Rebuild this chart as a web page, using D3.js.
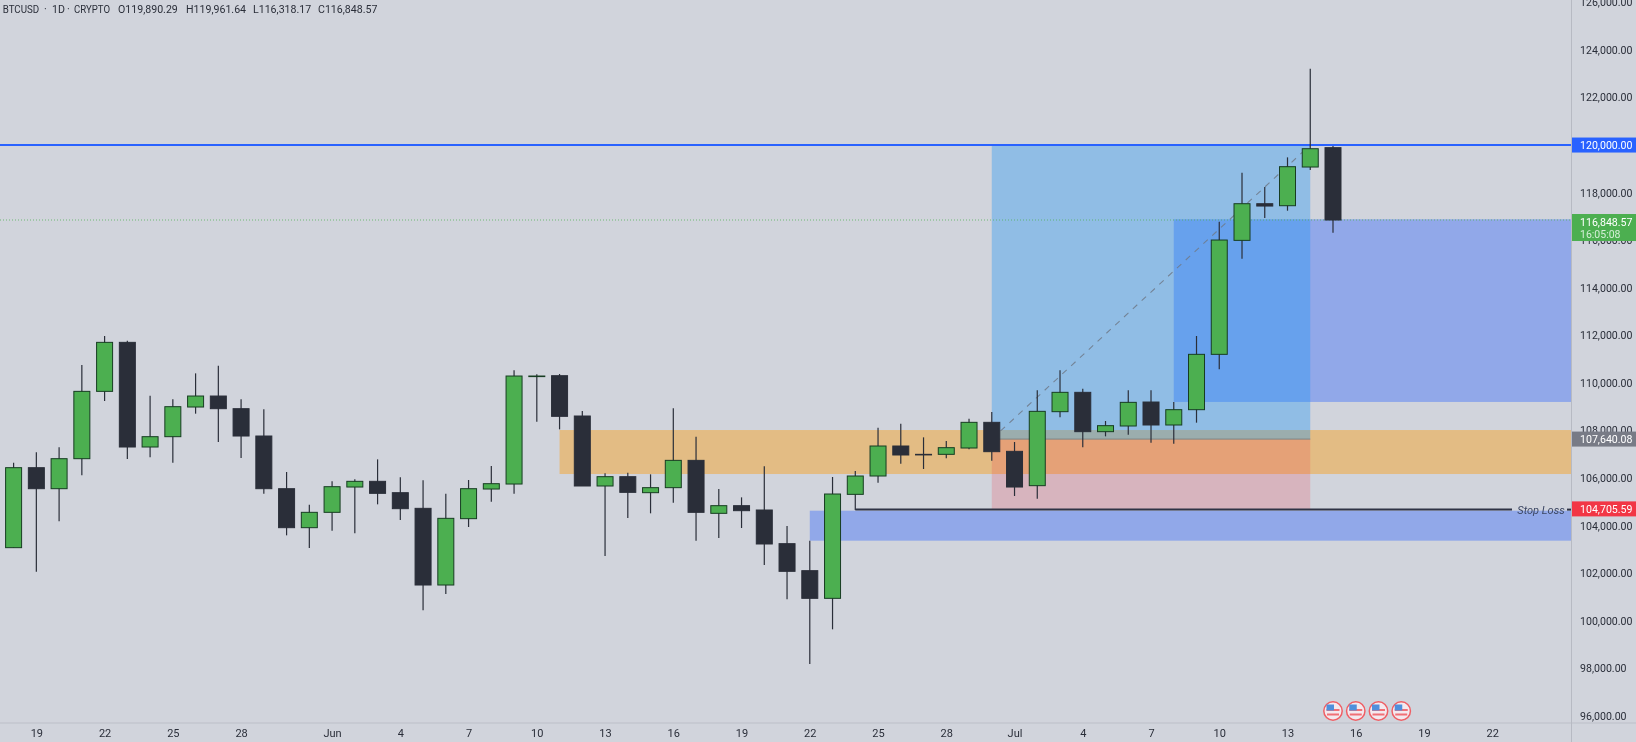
<!DOCTYPE html>
<html>
<head>
<meta charset="utf-8">
<script src="https://cdn.jsdelivr.net/npm/d3@7"></script>
<style>
html,body{margin:0;padding:0;background:#d1d4dc;overflow:hidden}
svg{display:block;font-family:Roboto,sans-serif;filter:blur(0.35px)}
</style>
</head>
<body>
<svg id="chart" width="1636" height="742"></svg>
<script>
const startDate = "2025-05-18";
const opens = [103076,106438,105555,106816,109646,111706,107307,107741,108988,109450,108918,107769,105555,103916,104561,105625,105864,105387,104729,101506,104295,105541,105751,110291,
  110305,108610,105668,106060,105387,105598,106746,104519,104841,104659,103244,102109,100946,105317,106088,107349,106999,106999,107265,108344,107125,105682,108792,109605,107952,108190,109198,108232,108876,111202,115993,117534,117450,119076,119890.29];
const closes = [106438,105555,106816,109646,111706,107307,107741,109002,109450,108918,107769,105555,103916,104561,105639,105864,105359,104715,101506,104309,105555,105765,110291,110291,
  108596,105668,106060,105401,105598,106746,104561,104841,104631,103230,102081,100946,105331,106088,107349,106971,106980,107279,108344,107111,105625,108806,109605,107952,108204,109184,108232,108876,111202,116007,117534,117436,119090,119846,116848.57];
const highs = [106648,107082,107293,110753,111972,111776,109464,109310,110403,110725,109310,108890,106256,104883,105864,105948,106788,106032,105906,105345,105920,106508,110529,110361,
  110375,108820,106200,106228,106158,108932,107741,105541,105191,106494,103986,103370,106046,106298,108119,108287,107713,107559,108498,108778,107517,109689,110529,109759,108400,109689,109689,109198,111973,116778,118837,118235,119482,123208,119961.64];
const lows = [103076,102067,104182,106116,109240,106802,106872,106648,108708,107517,106844,105345,103594,103062,103790,103678,104897,104238,100442,101128,103944,105009,105345,108371,
  108049,105668,102726,104323,104519,104967,103370,103482,103902,102347,100904,98186,99643,104659,105808,106606,106382,106831,107209,106732,105248,105135,108554,107293,107755,107826,107489,107447,108330,110571,115223,116932,117240,118950,116318.17];

const priceTicks = d3.range(96000, 126001, 2000);
const dateTicks = ["2025-05-19","2025-05-22","2025-05-25","2025-05-28","2025-06-01","2025-06-04","2025-06-07","2025-06-10","2025-06-13","2025-06-16","2025-06-19","2025-06-22","2025-06-25","2025-06-28","2025-07-01","2025-07-04","2025-07-07","2025-07-10","2025-07-13","2025-07-16","2025-07-19","2025-07-22"];
const dateTickLabels = ["19","22","25","28","Jun","4","7","10","13","16","19","22","25","28","Jul","4","7","10","13","16","19","22"];
const eventDates = ["2025-07-15","2025-07-16","2025-07-17","2025-07-18"];

const headerParts = ["BTCUSD","·","1D","·","CRYPTO","O119,890.29","H119,961.64","L116,318.17","C116,848.57"];
const headerStarts = [2.7,44,52,67,74,118,186,253,318];
const headerWidths = [36.5,null,null,null,36,null,null,null,null];
const targetPrice = 120000, entryPrice = 107640.08, stopPrice = 104705.59, lastPrice = 116848.57;
const orangeZone = [108021, 106172], blueZoneUpper = [116880, 109200], blueZoneLower = [104630, 103370];
const positionDates = ["2025-06-30","2025-07-14"];
const orangeStart = "2025-06-11", upperStart = "2025-07-08", lowerStart = "2025-06-22", stopStart = "2025-06-24";

const W = 1636, H = 742, paneR = 1571.5, axisY = 723, labelX = 1580, labelSize = 10.6;
const d = s => new Date(s + "T00:00:00Z");
const x = d3.scaleUtc().domain([d(startDate), d("2025-07-15")]).range([13.6, 1333]);
const y = d3.scaleLinear().domain([96000, 126000]).range([716, 2.3]);
const svg = d3.select("#chart");

svg.append("rect").attr("width", W).attr("height", H).attr("fill", "#d1d4dc");

const zones = svg.append("g");
const zone = (x0, x1, p0, p1, fill) => zones.append("rect")
  .attr("x", x0).attr("width", x1 - x0)
  .attr("y", y(p0)).attr("height", y(p1) - y(p0)).attr("fill", fill);
zone(x(d(orangeStart)), paneR, orangeZone[0], orangeZone[1], "rgba(255,152,0,0.4)");
zone(x(d(upperStart)), paneR, blueZoneUpper[0], blueZoneUpper[1], "rgba(41,98,255,0.38)");
zone(x(d(lowerStart)), paneR, blueZoneLower[0], blueZoneLower[1], "rgba(41,98,255,0.38)");
zone(x(d(positionDates[0])), x(d(positionDates[1])), targetPrice, entryPrice, "rgba(33,150,243,0.37)");
zone(x(d(positionDates[0])), x(d(positionDates[1])), entryPrice, stopPrice, "rgba(242,54,69,0.2)");

svg.append("line").attr("x1", x(d(positionDates[0]))).attr("x2", x(d(positionDates[1])))
  .attr("y1", y(entryPrice)).attr("y2", y(entryPrice)).attr("stroke", "#7d8587").attr("stroke-width", 1);
svg.append("line").attr("x1", x(d(positionDates[0]))).attr("x2", x(d(positionDates[1])))
  .attr("y1", y(entryPrice)).attr("y2", y(targetPrice))
  .attr("stroke", "#6f7a89").attr("stroke-width", 1.1).attr("stroke-dasharray", "6 6").attr("opacity", .85);

svg.append("line").attr("x1", 0).attr("x2", paneR).attr("y1", y(lastPrice)).attr("y2", y(lastPrice))
  .attr("stroke", "#4caf50").attr("stroke-width", 1).attr("stroke-dasharray", "1 2").attr("opacity", .75);
svg.append("line").attr("x1", 0).attr("x2", paneR).attr("y1", y(targetPrice)).attr("y2", y(targetPrice))
  .attr("stroke", "#2962ff").attr("stroke-width", 2);

// Candles
const rows = opens.map((o, i) => ({
  t: d3.utcDay.offset(d(startDate), i), o, c: closes[i], h: highs[i], l: lows[i]
}));
const UP = "#4caf50", UPB = "#173d22", DN = "#2a2e39", WICK = "#2a2e39";
const bw = 16;
const cg = svg.append("g").selectAll("g").data(rows).join("g");
cg.append("line")
  .attr("x1", r => x(r.t)).attr("x2", r => x(r.t))
  .attr("y1", r => y(r.h)).attr("y2", r => y(r.l))
  .attr("stroke", WICK).attr("stroke-width", 1.2);
cg.append("rect")
  .attr("x", r => x(r.t) - bw / 2).attr("width", bw)
  .attr("y", r => y(Math.max(r.o, r.c)))
  .attr("height", r => Math.max(0.6, Math.abs(y(r.o) - y(r.c))))
  .attr("fill", r => r.c >= r.o ? UP : DN)
  .attr("stroke", r => r.c >= r.o ? UPB : DN).attr("stroke-width", 1);

// Stop loss line and label
const stopY = y(stopPrice) + 0.7;
svg.append("line").attr("x1", x(d(stopStart))).attr("x2", 1512).attr("y1", stopY).attr("y2", stopY)
  .attr("stroke", "#2f3345").attr("stroke-width", 2);
svg.append("line").attr("x1", 1567).attr("x2", paneR).attr("y1", stopY).attr("y2", stopY)
  .attr("stroke", "#2f3345").attr("stroke-width", 2);
svg.append("text").attr("x", 1541).attr("y", stopY + 4).attr("text-anchor", "middle")
  .attr("font-size", 11).attr("font-style", "italic").attr("fill", "#3c4763").text("Stop Loss");

// Axes
svg.append("line").attr("x1", 0).attr("x2", W).attr("y1", axisY).attr("y2", axisY).attr("stroke", "#bcbfc8");
svg.append("line").attr("x1", paneR).attr("x2", paneR).attr("y1", 0).attr("y2", H).attr("stroke", "#b7bac3");

const yAxis = d3.axisRight(y).tickValues(priceTicks).tickSize(0).tickPadding(0)
  .tickFormat(v => d3.format(",.2f")(v));
const yg = svg.append("g").attr("transform", `translate(${labelX},0)`).call(yAxis);
yg.select(".domain").remove();
yg.selectAll("text").attr("font-size", labelSize).attr("font-family", "Roboto,sans-serif").attr("fill", "#2a2e39");

const tickDates = dateTicks.map(d);
const xAxis = d3.axisBottom(x).tickValues(tickDates).tickSize(0).tickPadding(0)
  .tickFormat((v, i) => dateTickLabels[i]);
const xg = svg.append("g").attr("transform", `translate(0,${axisY + 6})`).call(xAxis);
xg.select(".domain").remove();
xg.selectAll("text").attr("font-size", 11).attr("font-family", "Roboto,sans-serif").attr("fill", "#2a2e39");

// Price tags
const tag = (p, fill, h = 15, yTop = null) => {
  const t = yTop === null ? y(p) - h / 2 : yTop;
  svg.append("rect").attr("x", paneR + .5).attr("y", t).attr("width", W - paneR).attr("height", h).attr("fill", fill);
  svg.append("text").attr("x", labelX).attr("y", t + 11.5).attr("font-size", labelSize).attr("fill", "#fff")
    .text(d3.format(",.2f")(p));
};
tag(targetPrice, "#2962ff");
tag(entryPrice, "#787b86");
tag(stopPrice, "#f23645");
tag(lastPrice, "#4caf50", 27, y(lastPrice) - 6);
svg.append("text").attr("x", labelX).attr("y", y(lastPrice) + 17.5).attr("font-size", 10.5)
  .attr("fill", "#d5efd7").text("16:05:08");

// Event flags
const ev = svg.append("g").selectAll("g").data(eventDates).join("g")
  .attr("transform", e => `translate(${x(d(e))},711)`);
ev.append("circle").attr("r", 9.2).attr("fill", "#f4e9ee").attr("stroke", "#ef5f65").attr("stroke-width", 1.5);
ev.append("rect").attr("x", -6.5).attr("y", -2).attr("width", 13).attr("height", 2).attr("fill", "#f07076");
ev.append("rect").attr("x", -6).attr("y", 2.5).attr("width", 12).attr("height", 2).attr("fill", "#f07076");
ev.append("rect").attr("x", -6.5).attr("y", -6.5).attr("width", 7.5).attr("height", 6).attr("fill", "#4f8fdc");

// Header
svg.append("g").selectAll("text").data(headerParts).join("text")
  .attr("x", (s, i) => headerStarts[i]).attr("y", 13)
  .attr("font-size", 10.6).attr("fill", "#2a2e39")
  .each(function (s, i) {
    if (headerWidths[i]) d3.select(this).attr("textLength", headerWidths[i]).attr("lengthAdjust", "spacingAndGlyphs");
  })
  .text(s => s);
</script>
</body>
</html>
